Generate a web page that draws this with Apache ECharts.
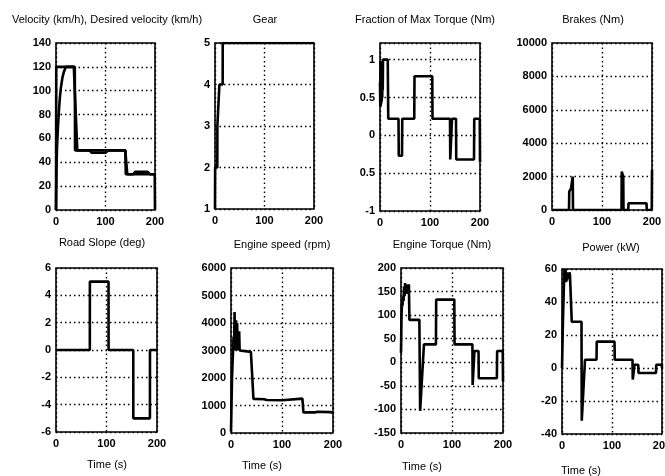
<!DOCTYPE html>
<html><head><meta charset="utf-8">
<script src="https://cdn.jsdelivr.net/npm/echarts@6/dist/echarts.min.js"></script>
<style>html,body{margin:0;padding:0;background:#fff}#c{width:665px;height:476px}</style>
</head><body><div id="c"></div>
<script>
// ---- data (time in s) ----
var velT = [0, 1, 2, 4, 6, 8, 10, 13, 16, 20, 36, 43, 68, 72, 100, 106, 140, 142, 144, 156, 160, 185, 190, 200];
var velV = [0, 35, 52, 70, 84, 95, 103, 111, 116, 120, 120, 50, 50, 48, 48, 50, 50, 40, 30, 30, 32, 32, 30, 30];
var desT = [0, 0.5, 38, 38.5, 140, 141, 199.5, 200];
var desV = [0, 120, 120, 50, 50, 30, 30, 0];
var gearT = [0, 0.3, 4.7, 4.8, 8.8, 8.9, 15.5, 15.6, 200];
var gearV = [1, 2, 2, 3, 3, 4, 4, 5, 5];
var fracT = [0, 0.5, 1, 1.5, 2, 2.5, 3, 3.5, 4, 4.5, 5, 5.5, 6, 6.5, 15.5, 16.5, 37, 37.5, 44, 44.5, 68.5, 69, 104.5, 105, 140, 140.5, 143.5, 144, 152, 152.5, 188, 188.5, 199.5, 200];
var fracV = [0.7, 0.4, 0.98, 0.38, 0.95, 0.42, 0.9, 0.45, 0.85, 0.5, 0.95, 0.6, 1.0, 1.0, 1.0, 0.22, 0.22, -0.27, -0.27, 0.22, 0.22, 0.78, 0.78, 0.22, 0.22, -0.32, -0.32, 0.22, 0.22, -0.32, -0.32, 0.22, 0.22, -0.35];
var brkT = [0, 34, 34.5, 38, 41.5, 42, 139, 139.5, 142.5, 143, 152.5, 153, 189, 189.5, 199.5, 200];
var brkV = [0, 0, 1100, 1300, 2000, 0, 0, 2300, 2000, 0, 0, 400, 400, 0, 0, 2400];
var slpT = [0, 67, 67.1, 104, 104.1, 153, 153.1, 186, 186.1, 200];
var slpV = [0, 0, 5, 5, 0, 0, -5, -5, 0, 0];
var spdT = [0, 2, 4, 5, 6, 7, 8, 9, 10, 11, 12, 13, 14, 15, 16, 17, 18, 39, 44, 65, 70, 100, 103, 140, 142, 165, 170, 195, 199, 200];
var spdV = [50, 2000, 3000, 3500, 3000, 4400, 3000, 3300, 4100, 3000, 4000, 3100, 3200, 3000, 3700, 3000, 2950, 2950, 1240, 1230, 1200, 1190, 1250, 1250, 750, 750, 770, 760, 740, 700];
var trqT = [0, 1, 2, 3, 4, 5, 6, 7, 8, 9, 10, 11, 12, 13, 14, 15.5, 16.5, 36, 37.5, 45, 68.5, 69, 104.5, 105, 140, 140.5, 143.5, 144, 152, 152.5, 188, 188.5, 199.5, 200];
var trqV = [20, 100, 125, 120, 140, 130, 160, 140, 168, 150, 165, 145, 165, 150, 160, 165, 90, 90, -103, 38, 38, 133, 133, 38, 38, -48, -48, 24, 24, -34, -34, 24, 24, -40];
var pwrT = [0, 2, 4, 5, 6, 7, 8, 9, 10, 11, 12, 13, 14, 15, 16, 18, 19.5, 39, 39.5, 46, 69, 69.5, 105, 105.5, 141, 141.5, 144.5, 145, 152.5, 153, 188, 188.5, 199.5, 200];
var pwrV = [0, 30, 52, 60, 55, 60, 52, 58, 53, 58, 55, 58, 54, 58, 56, 57, 28, 28, -32, 5, 5, 16, 16, 5, 5, -7, -7, 2, 2, -3, -3, 2, 2, 0];

var titles = ['Velocity (km/h), Desired velocity (km/h)', 'Gear', 'Fraction of Max Torque (Nm)', 'Brakes (Nm)',
              'Road Slope (deg)', 'Engine speed (rpm)', 'Engine Torque (Nm)', 'Power (kW)'];
var xName = 'Time (s)';
var xTicks = {min: 0, max: 200, interval: 100};
var yScales = [
  {min: 0, max: 140, interval: 20},
  {min: 1, max: 5, interval: 1},
  {min: -1, max: 1.22, interval: 0.5},
  {min: 0, max: 10000, interval: 2000},
  {min: -6, max: 6, interval: 2},
  {min: 0, max: 6000, interval: 1000},
  {min: -150, max: 200, interval: 50},
  {min: -40, max: 60, interval: 20}
];

function zip(a, b) { return a.map(function (t, i) { return [t, b[i]]; }); }
var panels = [
  [[velT, velV], [desT, desV]],
  [[gearT, gearV]],
  [[fracT, fracV]],
  [[brkT, brkV]],
  [[slpT, slpV]],
  [[spdT, spdV]],
  [[trqT, trqV]],
  [[pwrT, pwrV]]
];

// ---- layout ----
var boxes = [
  [56, 43, 99, 167], [215, 43, 99, 166], [380, 43, 100, 168], [552, 43, 100, 167],
  [56, 268, 101, 164], [231, 268, 102, 165], [401, 268, 102, 165], [562, 269, 100, 165]
];
var titlePos = [[107, 20], [265, 20], [425, 20], [593, 20], [102, 243], [282, 245], [442, 245], [611, 248]];
var xNamePos = [[107, 465], [262, 466], [422, 467], [581, 471]];

var FONT = '"Liberation Sans", Arial, Helvetica, sans-serif';
var grid = [], xAxis = [], yAxis = [], series = [], graphic = [];
var dotted = {show: true, lineStyle: {color: '#000', width: 1.4, type: [1.5, 3]}};
var lab = {color: '#000', fontSize: 11, fontWeight: 'bold', fontFamily: FONT};
function plain(v) { return String(v); }

boxes.forEach(function (b, i) {
  grid.push({left: b[0], top: b[1], width: b[2], height: b[3], show: true,
             outerBoundsMode: 'none', containLabel: false,
             borderColor: '#000', borderWidth: 1.6, backgroundColor: 'transparent'});
  xAxis.push({type: 'value', gridIndex: i, min: xTicks.min, max: xTicks.max, interval: xTicks.interval,
              axisLine: {show: false}, axisTick: {show: false}, splitLine: dotted,
              axisLabel: Object.assign({margin: 6, formatter: plain}, lab)});
  var ys = yScales[i];
  var yl = Object.assign({margin: 5, formatter: plain}, lab);
  if (i === 2) {
    yl.formatter = function (v) {
      var r = Math.round(v * 2) / 2;
      if (Math.abs(r - v) > 1e-6) return '';
      if (r === -0.5) return '0.5';
      return String(r);
    };
  }
  yAxis.push({type: 'value', gridIndex: i, min: ys.min, max: ys.max, interval: ys.interval,
              axisLine: {show: false}, axisTick: {show: false}, splitLine: dotted, axisLabel: yl});
  panels[i].forEach(function (p) {
    series.push({type: 'line', xAxisIndex: i, yAxisIndex: i, data: zip(p[0], p[1]),
                 showSymbol: false, symbol: 'none', animation: false, clip: true,
                 lineStyle: {color: '#000', width: 2.6}});
  });
  graphic.push({type: 'text', x: titlePos[i][0], y: titlePos[i][1],
                style: {text: titles[i], align: 'center', verticalAlign: 'middle',
                        font: '11px ' + FONT, fill: '#000'}});
});
xNamePos.forEach(function (p) {
  graphic.push({type: 'text', x: p[0], y: p[1],
                style: {text: xName, align: 'center', verticalAlign: 'middle',
                        font: '11px ' + FONT, fill: '#000'}});
});

var chart = echarts.init(document.getElementById('c'), null, {renderer: 'canvas'});
chart.setOption({animation: false, backgroundColor: '#fff', grid: grid, xAxis: xAxis, yAxis: yAxis,
                 series: series, graphic: graphic});
</script></body></html>
